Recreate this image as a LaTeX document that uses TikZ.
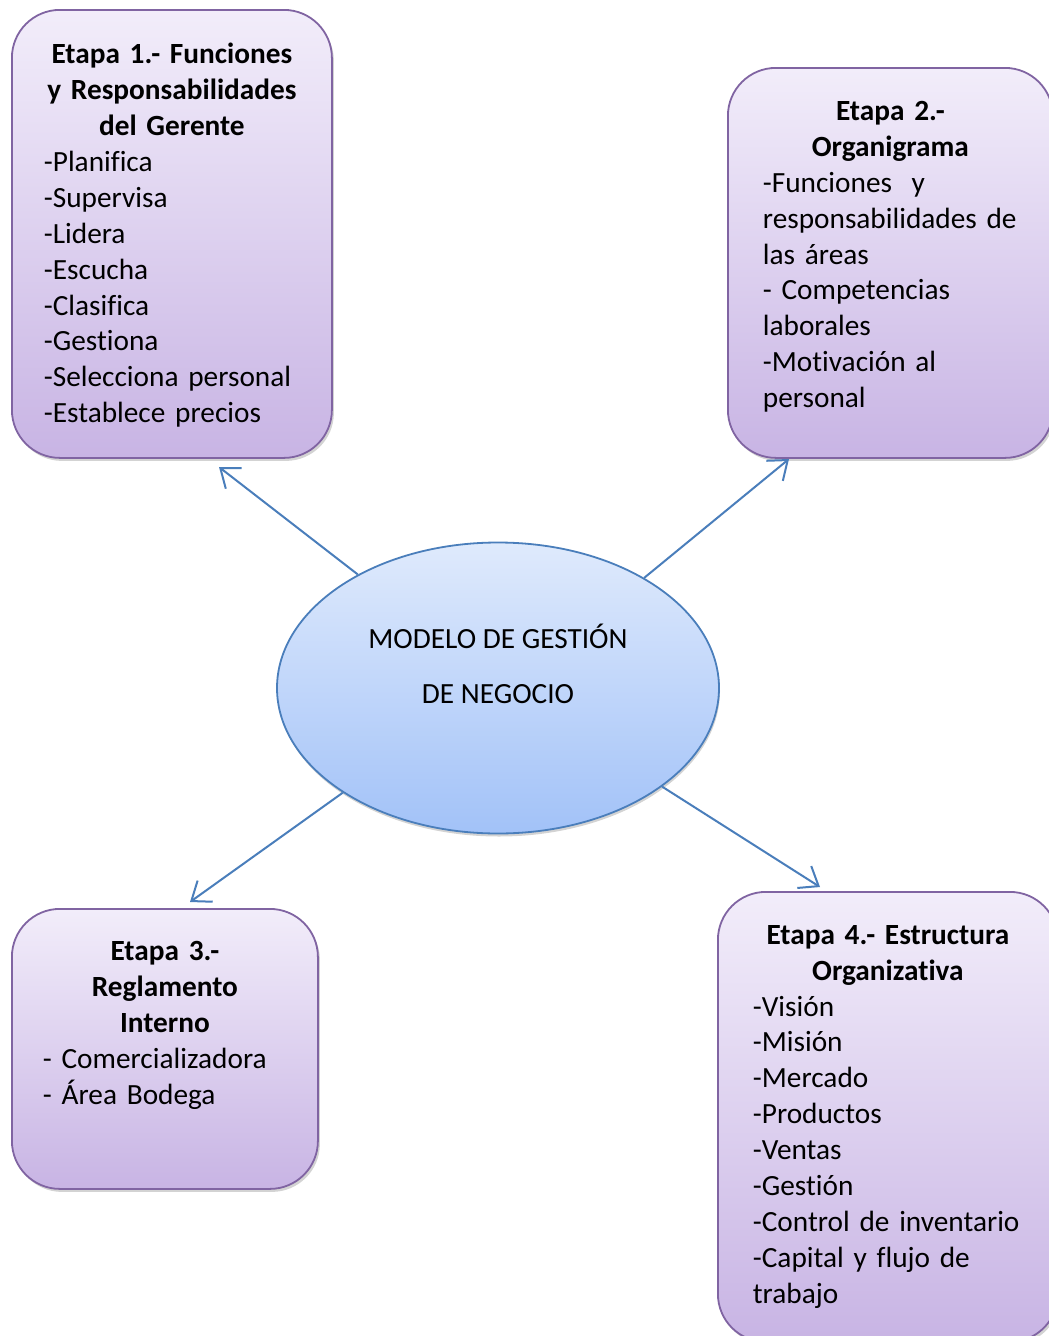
\documentclass[tikz,border=0pt]{standalone}
\usepackage{fontspec}
\setmainfont{Carlito}[Ligatures=NoCommon]
\usetikzlibrary{arrows.meta,positioning,shapes.geometric,shadows}
\setlength{\parindent}{0pt}
\definecolor{lilaclaro}{RGB}{242,237,250}
\definecolor{lilaoscuro}{RGB}{200,180,228}
\definecolor{bordelila}{RGB}{128,100,162}
\definecolor{azulclaro}{RGB}{223,234,252}
\definecolor{azuloscuro}{RGB}{162,194,248}
\definecolor{azulflecha}{RGB}{74,126,187}

\begin{document}
\begin{tikzpicture}[x=1pt, y=-1pt, >={Straight Barb[length=17pt,width=26pt]},
	   font=\fontsize{29.3}{35.9}\selectfont,
	   etapa/.style={draw=bordelila, line width=1.8pt, rounded corners=48pt,
	     top color=lilaclaro, bottom color=lilaoscuro, anchor=north west, inner sep=0pt,
	     drop shadow={shadow xshift=2pt, shadow yshift=-3pt, opacity=.35}},
	   txt/.style={text width=#1, inner sep=0pt},
	   flecha/.style={->, draw=azulflecha, line width=2pt}]
	  \useasboundingbox (0,0) rectangle (1049,1336);
	  \clip (0,0) rectangle (1049,1336);
	  % centro
	  \node[ellipse, draw=azulflecha, line width=1.8pt, minimum width=442pt, minimum height=291pt,
	     top color=azulclaro, bottom color=azuloscuro, inner sep=0pt,
	     drop shadow={shadow xshift=1pt, shadow yshift=-3pt, opacity=.35}] (modelo) at (498,688) {};
	  \node[align=center, font=\fontsize{29.3}{55}\selectfont] (titulo) at (498,664)
	     {MODELO DE GESTIÓN\\ DE NEGOCIO};
	  % etapas
	  \node[etapa, minimum width=320pt, minimum height=448pt] (etapa1) at (11,9) {};
	  \node[txt=256pt, below=34pt of etapa1.north] (t1)
	     {{\centering\bfseries Etapa 1.- Funciones\\ y~Responsabilidades\\ del Gerente\par}
	      -Planifica\\ -Supervisa\\ -Lidera\\ -Escucha\\ -Clasifica\\ -Gestiona\\
	      -Selecciona~personal\\ -Establece~precios};
	  \node[etapa, minimum width=325pt, minimum height=390pt] (etapa2) at (727,67) {};
	  \node[txt=255pt, below=34pt of etapa2.north] (t2)
	     {{\centering\bfseries Etapa 2.-\\ Organigrama\par}
	      -Funciones\ \ y\\ responsabilidades~de\\ las áreas\\ - Competencias\\
	      laborales\\ -Motivación al\\ personal};
	  \node[etapa, minimum width=306pt, minimum height=280pt] (etapa3) at (11,908) {};
	  \node[txt=244pt, below=33pt of etapa3.north] (t3)
	     {{\centering\bfseries Etapa 3.-\\ Reglamento\\ Interno\par}
	      - Comercializadora\\ - Área~Bodega};
	  \node[etapa, minimum width=340pt, minimum height=450pt] (etapa4) at (717,891) {};
	  \node[txt=270pt, below=34pt of etapa4.north] (t4)
	     {{\centering\bfseries Etapa 4.-~Estructura\\ Organizativa\par}
	      -Visión\\ -Misión\\ -Mercado\\ -Productos\\ -Ventas\\ -Gestión\\
	      -Control~de~inventario\\ -Capital~y~flujo~de\\ trabajo};
	  % flechas
	  \coordinate (p1) at (219,467);
	  \coordinate (p2) at (789,459);
	  \coordinate (p3) at (190,902);
	  \coordinate (p4) at (820,887);
	  \draw[flecha] (modelo.141.5) -- (p1);
	  \draw[flecha] (modelo.37) -- (p2);
	  \draw[flecha] (modelo.214.8) -- (p3);
	  \draw[flecha] (modelo.329.6) -- (p4);
	\end{tikzpicture}
\end{document}
